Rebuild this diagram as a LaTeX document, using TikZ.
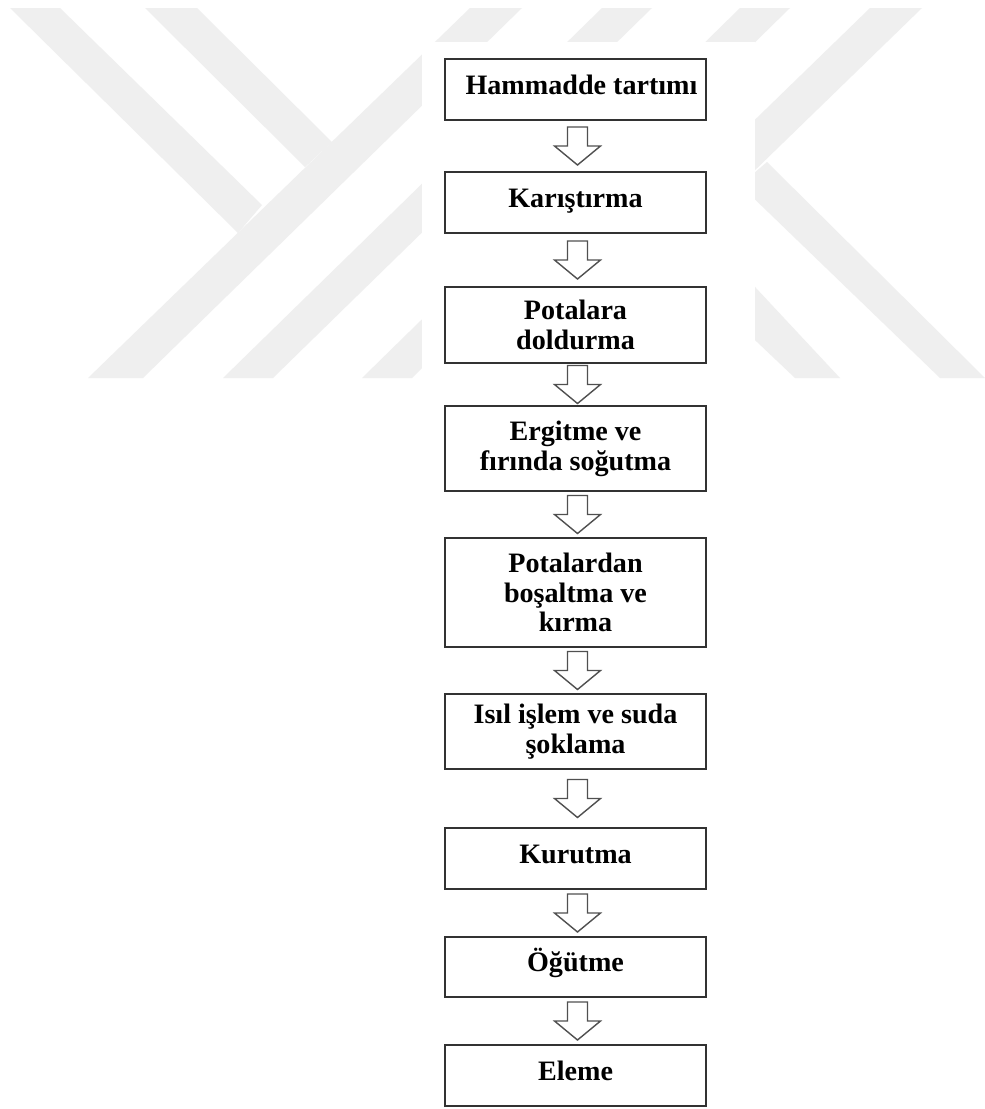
\documentclass[tikz,border=0pt]{standalone}
\usepackage{fontspec}
\setmainfont{Liberation Serif}
\usepackage{tikz}
\usetikzlibrary{shapes,arrows,positioning,calc}
\definecolor{wmgray}{RGB}{239,239,239}
\definecolor{boxline}{RGB}{50,50,50}
\definecolor{arrowline}{RGB}{80,80,80}

\tikzset{
    procbox/.style={draw=boxline, line width=1.1pt, fill=white, minimum width=5.22cm,
        inner sep=2pt, align=center, font=\fontsize{16}{17}\selectfont\bfseries},
    oneline/.style={procbox, text height=11pt, text depth=5.7pt},
    hollowarrow/.style={draw=arrowline, line width=0.8pt, fill=white, line join=miter}
}

\begin{document}
\begin{tikzpicture}[x=0.02cm, y=-0.02cm]
    % Page
    \fill[white] (0,0) rectangle (984,1109);
    \useasboundingbox (0,0) rectangle (984,1109);

    % Watermark stripes
    \fill[wmgray] (10,8) -- (60,8) -- (262,205) -- (238,233) -- cycle;
    \fill[wmgray] (145,8) -- (197,8) -- (332,142) -- (305,167) -- cycle;
    \fill[wmgray] (470,8) -- (522,8) -- (143,378) -- (88,378) -- cycle;
    \fill[wmgray] (602,8) -- (652,8) -- (273,378) -- (223,378) -- cycle;
    \fill[wmgray] (740,8) -- (790,8) -- (412,378) -- (362,378) -- cycle;
    \fill[wmgray] (870,8) -- (922,8) -- (541,378) -- (489,378) -- cycle;
    \fill[wmgray] (767,162) -- (985,378) -- (940,378) -- (740,185) -- cycle;
    \fill[wmgray] (700,228) -- (840,378) -- (795,378) -- (700,288) -- cycle;
    % Figure background
    \fill[white] (422,42) rectangle (755,400);

    % Process steps
    \node[oneline, minimum height=1.22cm] (hammadde) at (575.5,89.5) {\hspace*{0.24cm}Hammadde tartımı};
    \node[oneline, minimum height=1.22cm] (karistirma) at (575.5,202.5) {Karıştırma};
    \node[procbox, minimum height=1.52cm] (doldurma) at (575.5,325) {Potalara\\doldurma};
    \node[procbox, minimum height=1.70cm] (ergitme) at (575.5,448.5) {Ergitme ve\\fırında soğutma};
    \node[procbox, minimum height=2.18cm] (bosaltma) at (575.5,592.5) {Potalardan\\boşaltma ve\\kırma};
    \node[procbox, minimum height=1.50cm] (isil) at (575.5,731.5) {Isıl işlem ve suda\\şoklama};
    \node[oneline, minimum height=1.22cm] (kurutma) at (575.5,858.5) {Kurutma};
    \node[oneline, minimum height=1.20cm] (ogutme) at (575.5,967) {Öğütme};
    \node[oneline, minimum height=1.22cm] (eleme) at (575.5,1075.5) {Eleme};

    % Block arrows between steps
    \foreach \a/\b in {hammadde/karistirma, karistirma/doldurma, doldurma/ergitme,
        ergitme/bosaltma, bosaltma/isil, isil/kurutma, kurutma/ogutme, ogutme/eleme} {
        \coordinate (mid) at ($(\a.south)!0.5!(\b.north)+(2,0)$);
        \draw[hollowarrow] ($(mid)+(-10,-19)$) -- ($(mid)+(10,-19)$) -- ($(mid)+(10,0)$)
            -- ($(mid)+(23,0)$) -- ($(mid)+(0,19)$) -- ($(mid)+(-23,0)$)
            -- ($(mid)+(-10,0)$) -- cycle;
    }
\end{tikzpicture}
\end{document}
